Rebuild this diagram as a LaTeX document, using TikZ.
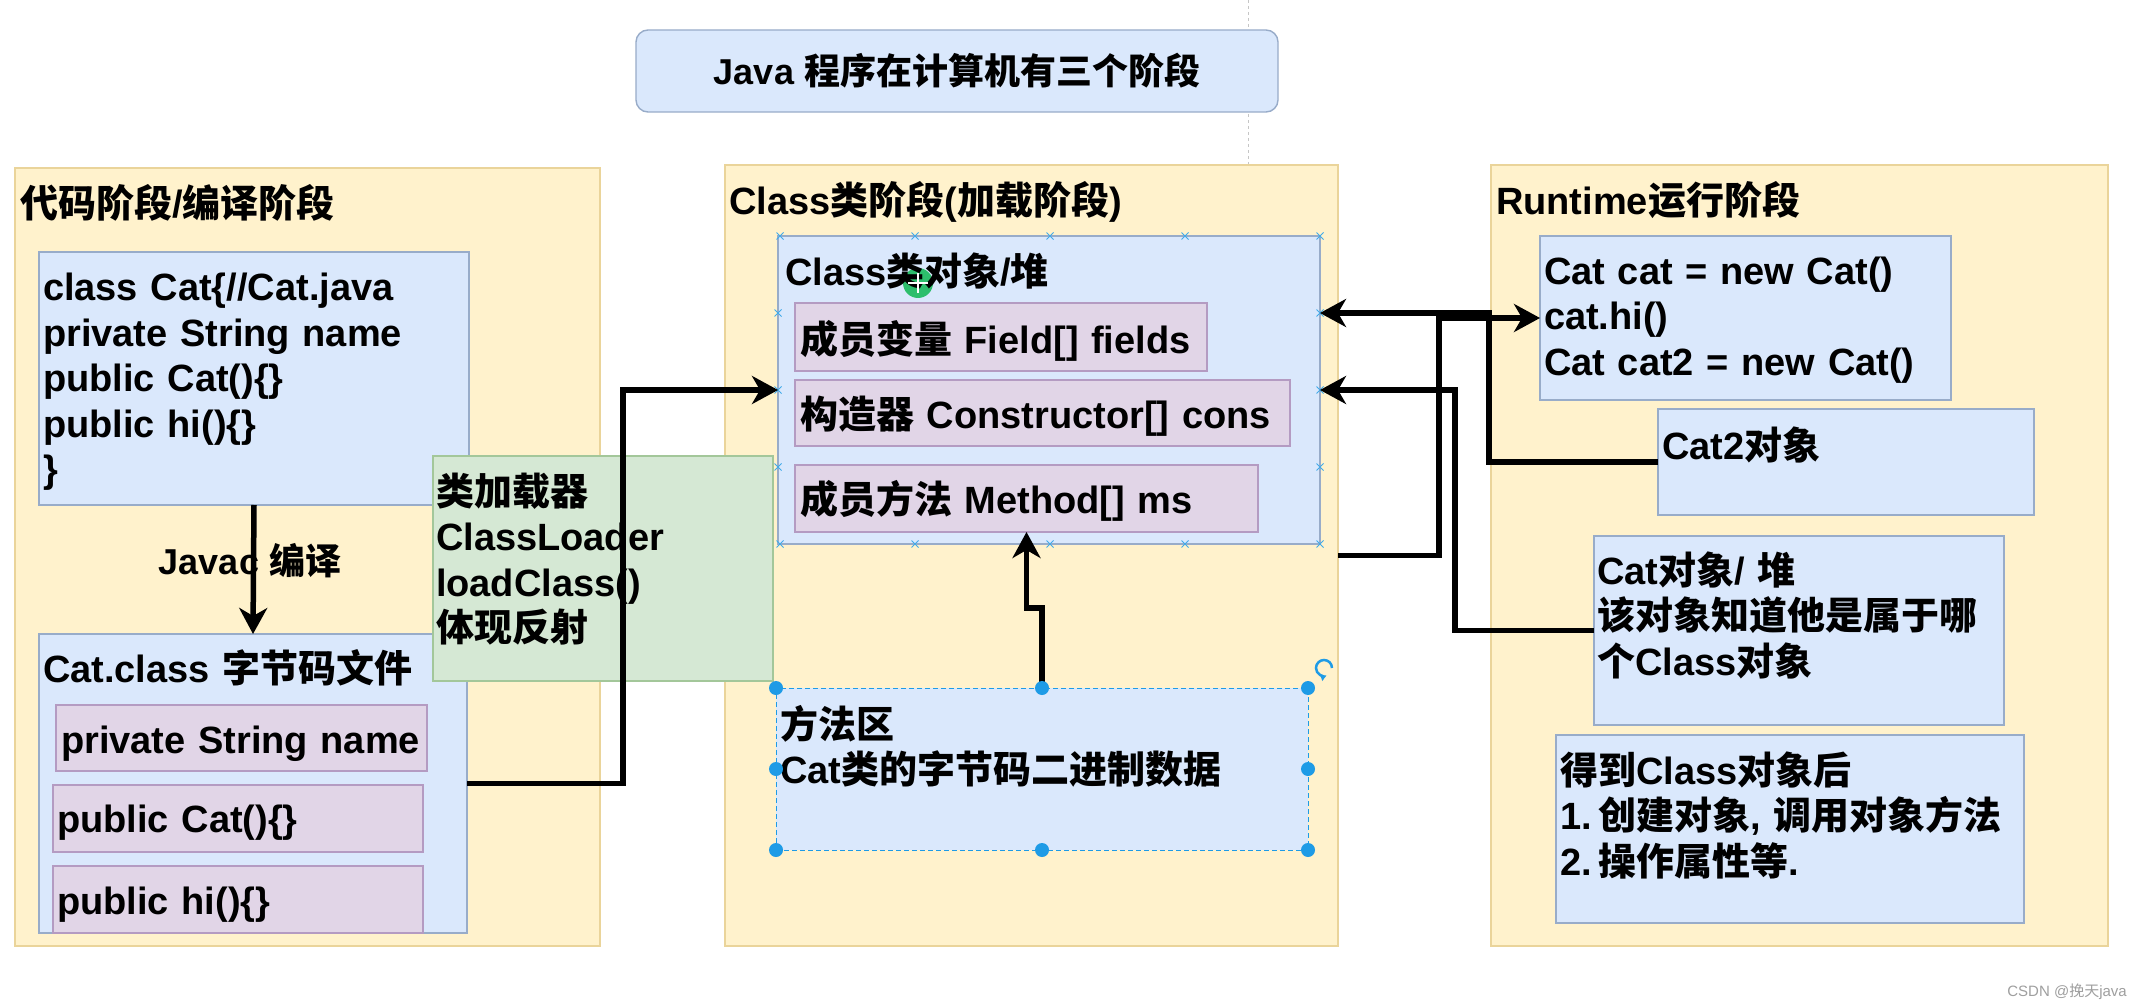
\documentclass[tikz,border=0pt]{standalone}
\usepackage{fontspec}
\setmainfont{Liberation Sans}
\newfontfamily\cjk{Noto Sans CJK SC}
\usetikzlibrary{arrows.meta,calc}
\definecolor{panelfill}{HTML}{FFF2CC}
\definecolor{panelline}{HTML}{EAD49A}
\definecolor{bluefill}{HTML}{DAE8FC}
\definecolor{blueline}{HTML}{98ACC9}
\definecolor{pinkfill}{HTML}{E1D5E7}
\definecolor{pinkline}{HTML}{B49BC2}
\definecolor{greenfill}{HTML}{D5E8D4}
\definecolor{greenline}{HTML}{A3C79A}
\definecolor{handle}{HTML}{1E9BE6}
\definecolor{cursorgreen}{HTML}{2DBE6C}
\newcommand\zh[1]{{\cjk #1}}
\newcommand\bigfont{\fontsize{38pt}{45.5pt}\selectfont\bfseries}
\newcommand\xmk[1]{\draw[xm] #1 ++(-3.5,-3.5) -- ++(7,7) ++(-7,0) -- ++(7,-7);}
\begin{document}
\begin{tikzpicture}[x=1pt,y=-1pt,
  box/.style={rectangle, anchor=north west, inner sep=0pt, outer sep=0pt, line width=1.4pt},
  panel/.style={box, draw=panelline, fill=panelfill},
  bluebox/.style={box, draw=blueline, fill=bluefill},
  pinkbox/.style={box, draw=pinkline, fill=pinkfill},
  greenbox/.style={box, draw=greenline, fill=greenfill},
  size/.style 2 args={minimum width=#1pt, minimum height=#2pt},
  txt/.style={anchor=base west, inner sep=0pt, outer sep=0pt, text width=720pt, align=left, font=\bigfont},
  conn/.style={line width=5.5pt, -{Stealth[length=26pt,width=28pt,inset=8pt]}},
  xm/.style={draw=handle!85, line width=1pt},
]
\fill[white] (0,0) rectangle (2141,1008);
\useasboundingbox (0,0) rectangle (2141,1008);

\draw[gray!45, dashed, line width=1pt] (1248,0) -- (1248,170);

% title
\node[bluebox, size={642}{82}, rounded corners=12pt] (title) at (636,30) {};
\node[font=\fontsize{36pt}{43pt}\selectfont\bfseries, inner sep=0pt] (titletext) at (957,71) {Java \zh{程序在计算机有三个阶段}};

% panels
\node[panel, size={585}{778}] (codepanel) at (15,168) {};
\node[panel, size={613}{781}] (classpanel) at (725,165) {};
\node[panel, size={617}{781}] (rtpanel) at (1491,165) {};

% code stage boxes
\node[bluebox, size={430}{253}] (javabox) at (39,252) {};
\node[bluebox, size={428}{299}] (catclass) at (39,634) {};
\node[pinkbox, size={371}{66}] (pfield) at (56,705) {};
\node[pinkbox, size={370}{67}] (pcons) at (53,785) {};
\node[pinkbox, size={370}{67}] (phi) at (53,866) {};

% class stage boxes
\node[bluebox, size={542}{308}] (classobj) at (778,236) {};
\node[pinkbox, size={412}{68}] (fieldbox) at (795,303) {};
\node[pinkbox, size={495}{66}] (consbox) at (795,380) {};
\node[pinkbox, size={463}{67}] (methodbox) at (795,465) {};
\node[box, fill=bluefill, draw=handle, dash pattern=on 5pt off 3pt, line width=1pt, size={532}{162}] (methodarea) at (776,688) {};

% class loader
\node[greenbox, size={340}{225}] (loader) at (433,456) {};

% runtime boxes
\node[bluebox, size={411}{164}] (rtcode) at (1540,236) {};
\node[bluebox, size={376}{106}] (cat2) at (1658,409) {};
\node[bluebox, size={410}{189}] (catobj) at (1594,536) {};
\node[bluebox, size={468}{188}] (rtnote) at (1556,735) {};

% cursor highlight
\fill[cursorgreen] (918,283) circle (15pt);

% texts
\node[txt] (codetitle) at (20,218) {\zh{代码阶段}/\zh{编译阶段}};
\node[txt] (javatext) at (43,301) {class Cat\{//Cat.java\\private String name\\public Cat()\{\}\\public hi()\{\}\\\}};
\node[txt] (catclasstitle) at (43,682) {Cat.class \zh{字节码文件}};
\node[txt] (pfieldtext) at (61,753) {private String name};
\node[txt] (pconstext) at (57,832) {public Cat()\{\}};
\node[txt] (phitext) at (57,914) {public hi()\{\}};
\node[txt] (loadertext) at (436,505) {\zh{类加载器}\\ClassLoader\\loadClass()\\\zh{体现反射}};
\node[txt] (classtitle) at (729,215) {Class\zh{类阶段}(\zh{加载阶段})};
\node[txt] (classobjtitle) at (785,286) {Class\zh{类对象}/\zh{堆}};
\node[txt] (fieldtext) at (800,353) {\zh{成员变量} Field[] fields};
\node[txt] (constext) at (800,428) {\zh{构造器} Constructor[] cons};
\node[txt] (methodtext) at (800,513) {\zh{成员方法} Method[] ms};
\node[txt] (areatext) at (780,738) {\zh{方法区}\\Cat\zh{类的字节码二进制数据}};
\node[txt] (rttitle) at (1496,215) {Runtime\zh{运行阶段}};
\node[txt] (rtcodetext) at (1544,284) {Cat cat = new Cat()\\cat.hi()\\Cat cat2 = new Cat()};
\node[txt] (cat2text) at (1662,459) {Cat2\zh{对象}};
\node[txt] (catobjtext) at (1597,584) {Cat\zh{对象}/ \zh{堆}\\\zh{该对象知道他是属于哪}\\\zh{个}Class\zh{对象}};
\node[txt] (rtnotetext) at (1560,784) {\zh{得到}Class\zh{对象后}\\1.\,\zh{创建对象}, \zh{调用对象方法}\\2.\,\zh{操作属性等}.};
\node[font=\fontsize{36pt}{43pt}\selectfont\bfseries, inner sep=0pt] (javaclabel) at (250,561) {Javac \zh{编译}};
\node[anchor=east, font=\fontsize{15pt}{18pt}\selectfont, text=gray!75, inner sep=0pt] (wm) at (2127,992) {CSDN @\zh{挽天}java};

\draw[white, line width=2pt] (918,273) -- (918,293) (908,283) -- (928,283);

% connection point marks
\foreach \xx in {780,915,1050,1185,1320} {\xmk{(\xx,236)} \xmk{(\xx,544)}}
\foreach \yy in {313,390,467} {\xmk{(778,\yy)} \xmk{(1320,\yy)}}

% connectors
\draw[conn] (javabox.south) -- (catclass.north);
\draw[conn] (catclass.east) -- ++(156,0) |- (classobj.west);
\draw[conn] (methodarea.north) -- ++(0,-80) -| (methodbox.south);
\draw[conn] (cat2.west) -- ++(-169,0) |- ($(classobj.north east)!0.25!(classobj.south east)$);
\draw[conn] (catobj.west) -- ++(-139,0) |- (classobj.east);
\draw[conn] (classpanel.east) -- ++(101,0) |- (rtcode.west);

% selection handles
\foreach \a in {north west, north, north east, west, east, south west, south, south east}
  \fill[handle] (methodarea.\a) circle (7pt);
\draw[handle, line width=2.5pt, -{Latex[length=6pt,width=8pt]}] (1332,668) arc[start angle=0, end angle=290, radius=8pt];
\end{tikzpicture}
\end{document}
